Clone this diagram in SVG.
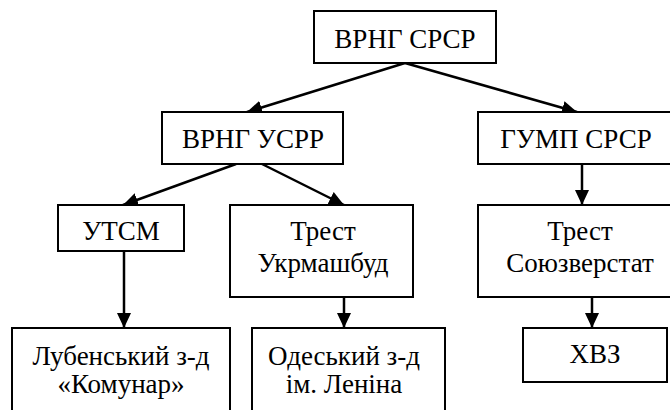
<svg xmlns="http://www.w3.org/2000/svg" width="670" height="410" viewBox="0 0 670 410" font-family="Liberation Serif, DejaVu Serif, serif">
<style>
.box{fill:#fff;stroke:#000;stroke-width:2}
.t{font-size:27px;fill:#000;text-anchor:middle}
.c{stroke:#000;stroke-width:2.5;fill:none;marker-end:url(#ah)}
</style>
<defs>
<marker id="ah" markerUnits="userSpaceOnUse" markerWidth="15" markerHeight="14" refX="15" refY="7" orient="auto">
<path d="M0,0 L15,7 L0,14 Z" fill="#000"/>
</marker>
</defs>
<rect width="670" height="410" fill="#fff"/>
<g id="connectors">
<line class="c" x1="405" y1="63" x2="247" y2="112"/>
<line class="c" x1="405" y1="63" x2="577" y2="112"/>
<line class="c" x1="236" y1="164" x2="123" y2="205"/>
<line class="c" x1="262" y1="164" x2="344" y2="205"/>
<line class="c" x1="124" y1="251" x2="124" y2="328"/>
<line class="c" x1="344" y1="297" x2="344" y2="328"/>
<line class="c" x1="582" y1="164" x2="582" y2="205"/>
<line class="c" x1="592" y1="297" x2="592" y2="328"/>
</g>
<g id="n1"><rect class="box" x="314" y="11" width="182" height="52"/><text class="t" x="405" y="48" font-family="Liberation Serif, serif">ВРНГ СРСР</text></g>
<g id="n2"><rect class="box" x="162" y="112" width="181" height="52"/><text class="t" x="253" y="148">ВРНГ УСРР</text></g>
<g id="n3"><rect class="box" x="478" y="112" width="200" height="52"/><text class="t" x="576" y="148">ГУМП СРСР</text></g>
<g id="n4"><rect class="box" x="58" y="205" width="126" height="46"/><text class="t" x="121" y="240">УТСМ</text></g>
<g id="n5"><rect class="box" x="230" y="205" width="183" height="92"/><text class="t" x="323" y="240">Трест</text><text class="t" x="323" y="272">Укрмашбуд</text></g>
<g id="n6"><rect class="box" x="478" y="205" width="200" height="92"/><text class="t" x="580" y="240">Трест</text><text class="t" x="580" y="272">Союзверстат</text></g>
<g id="n7"><rect class="box" x="12" y="328" width="218" height="100"/><text class="t" x="121" y="365">Лубенський з-д</text><text class="t" x="121" y="393">«Комунар»</text></g>
<g id="n8"><rect class="box" x="252" y="328" width="193" height="100"/><text class="t" x="344" y="365">Одеський з-д</text><text class="t" x="344" y="393">ім. Леніна</text></g>
<g id="n9"><rect class="box" x="523" y="328" width="144" height="54"/><text class="t" x="595" y="363">ХВЗ</text></g>
</svg>
